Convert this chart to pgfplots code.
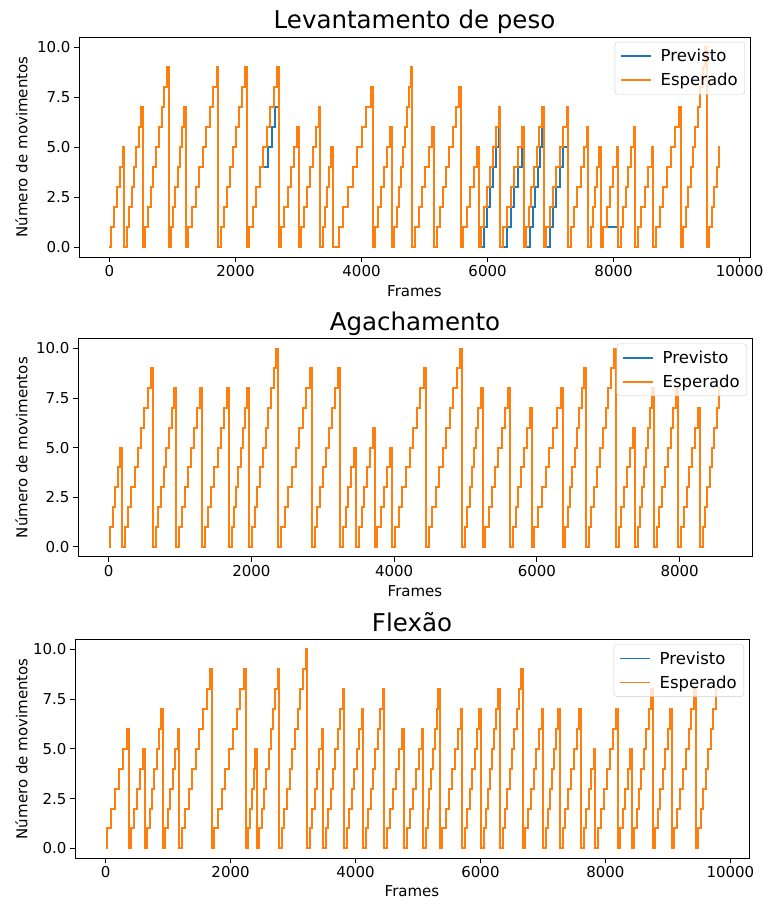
\documentclass[border=0pt]{standalone}
\usepackage{fontspec}
\setmainfont{DejaVu Sans}
\usepackage{pgfplots}
\usepackage{pgfplotstable}
\pgfplotsset{compat=1.18}

\definecolor{mplblue}{HTML}{1F77B4}
\definecolor{mplorange}{HTML}{FF7F0E}

% x = frame, p = previsto, e = esperado
\pgfplotstableread[row sep=\\]{
x p e\\
0 0 0\\ 30 1 1\\ 76 2 2\\ 121 3 3\\ 167 4 4\\ 212 5 5\\ 237 0 0\\
277 1 1\\ 314 2 2\\ 352 3 3\\ 389 4 4\\ 426 5 5\\ 464 6 6\\ 501 7 7\\ 526 0 0\\
566 1 1\\ 609 2 2\\ 653 3 3\\ 696 4 4\\ 739 5 5\\ 782 6 6\\ 826 7 7\\ 869 8 8\\ 912 9 9\\ 937 0 0\\
977 1 1\\ 1012 2 2\\ 1047 3 3\\ 1082 4 4\\ 1117 5 5\\ 1152 6 6\\ 1187 7 7\\ 1212 0 0\\
1252 1 1\\ 1308 2 2\\ 1365 3 3\\ 1421 4 4\\ 1477 5 5\\ 1533 6 6\\ 1590 7 7\\ 1646 8 8\\ 1702 9 9\\ 1727 0 0\\
1767 1 1\\ 1815 2 2\\ 1863 3 3\\ 1911 4 4\\ 1959 5 5\\ 2007 6 6\\ 2055 7 7\\ 2103 8 8\\ 2151 9 9\\ 2176 0 0\\
2216 1 1\\ 2272 2 2\\ 2327 3 3\\ 2383 4 4\\ 2439 4 5\\ 2494 4 6\\ 2520 5 6\\ 2550 5 7\\ 2580 6 7\\ 2605 6 8\\ 2630 7 8\\ 2661 7 9\\ 2686 0 0\\
2726 1 1\\ 2776 2 2\\ 2826 3 3\\ 2877 4 4\\ 2927 5 5\\ 2977 6 6\\ 3002 0 0\\
3042 1 1\\ 3088 2 2\\ 3135 3 3\\ 3181 4 4\\ 3227 5 5\\ 3274 6 6\\ 3320 7 7\\ 3345 0 0\\
3385 1 1\\ 3419 2 2\\ 3452 3 3\\ 3486 4 4\\ 3519 5 5\\ 3544 0 0\\
3640 1 1\\ 3713 2 2\\ 3786 3 3\\ 3859 4 4\\ 3932 5 5\\ 4005 6 6\\ 4078 7 7\\ 4151 8 8\\ 4176 0 0\\
4216 1 1\\ 4264 2 2\\ 4312 3 3\\ 4361 4 4\\ 4409 5 5\\ 4457 6 6\\ 4482 0 0\\
4522 1 1\\ 4555 2 2\\ 4587 3 3\\ 4620 4 4\\ 4652 5 5\\ 4685 6 6\\ 4718 7 7\\ 4750 8 8\\ 4783 9 9\\ 4808 0 0\\
4848 1 1\\ 4904 2 2\\ 4959 3 3\\ 5015 4 4\\ 5070 5 5\\ 5126 6 6\\ 5151 0 0\\
5191 1 1\\ 5242 2 2\\ 5293 3 3\\ 5344 4 4\\ 5395 5 5\\ 5446 6 6\\ 5497 7 7\\ 5548 8 8\\ 5573 0 0\\
5613 1 1\\ 5669 2 2\\ 5725 3 3\\ 5781 4 4\\ 5837 5 5\\ 5862 0 0\\
5902 0 1\\ 5948 1 2\\ 5995 2 3\\ 6041 3 4\\ 6087 4 5\\ 6134 5 6\\ 6180 6 7\\ 6205 0 0\\
6245 0 1\\ 6306 1 2\\ 6366 2 3\\ 6427 3 4\\ 6487 4 5\\ 6548 5 6\\ 6573 0 0\\
6613 0 1\\ 6655 0 2\\ 6680 1 2\\ 6697 1 3\\ 6720 2 3\\ 6739 2 4\\ 6760 3 4\\ 6780 3 5\\ 6800 4 5\\ 6822 4 6\\ 6835 5 6\\ 6864 6 7\\ 6889 0 0\\
6929 0 1\\ 6984 1 2\\ 7039 2 3\\ 7094 3 4\\ 7149 4 5\\ 7190 5 5\\ 7204 5 6\\ 7259 5 7\\ 7284 0 0\\
7324 1 1\\ 7374 2 2\\ 7424 3 3\\ 7475 4 4\\ 7525 5 5\\ 7575 6 6\\ 7600 0 0\\
7640 1 1\\ 7672 2 2\\ 7705 3 3\\ 7737 4 4\\ 7769 5 5\\ 7794 0 0\\
7834 1 1\\ 7888 1 2\\ 7941 1 3\\ 7995 1 4\\ 8049 1 5\\ 8074 0 0\\
8114 1 1\\ 8155 2 2\\ 8195 3 3\\ 8236 4 4\\ 8276 5 5\\ 8317 6 6\\ 8342 0 0\\
8382 1 1\\ 8437 2 2\\ 8492 3 3\\ 8547 4 4\\ 8602 5 5\\ 8627 0 0\\
8667 1 1\\ 8729 2 2\\ 8791 3 3\\ 8853 4 4\\ 8915 5 5\\ 8977 6 6\\ 9039 7 7\\ 9064 0 0\\
9104 1 1\\ 9143 2 2\\ 9182 3 3\\ 9221 4 4\\ 9260 5 5\\ 9299 6 6\\ 9338 7 7\\ 9377 8 8\\ 9416 9 9\\ 9455 10 10\\ 9480 0 0\\
9522 1 1\\ 9560 2 2\\ 9600 3 3\\ 9635 4 4\\ 9665 5 5\\ 9681 5 5\\
}\levantamento

\pgfplotstableread[row sep=\\]{
x y\\
0 0\\ 25 1\\ 59 2\\ 93 3\\ 126 4\\ 160 5\\ 185 0\\
225 1\\ 271 2\\ 317 3\\ 363 4\\ 409 5\\ 456 6\\ 502 7\\ 548 8\\ 594 9\\ 619 0\\
659 1\\ 696 2\\ 734 3\\ 771 4\\ 808 5\\ 845 6\\ 883 7\\ 920 8\\ 945 0\\
985 1\\ 1027 2\\ 1069 3\\ 1111 4\\ 1154 5\\ 1196 6\\ 1238 7\\ 1280 8\\ 1305 0\\
1345 1\\ 1390 2\\ 1436 3\\ 1481 4\\ 1526 5\\ 1572 6\\ 1617 7\\ 1662 8\\ 1687 0\\
1727 1\\ 1758 2\\ 1788 3\\ 1819 4\\ 1850 5\\ 1881 6\\ 1911 7\\ 1942 8\\ 1967 0\\
2007 1\\ 2045 2\\ 2084 3\\ 2122 4\\ 2160 5\\ 2199 6\\ 2237 7\\ 2275 8\\ 2314 9\\ 2352 10\\ 2377 0\\
2417 1\\ 2467 2\\ 2518 3\\ 2568 4\\ 2619 5\\ 2669 6\\ 2719 7\\ 2770 8\\ 2820 9\\ 2845 0\\
2885 1\\ 2926 2\\ 2968 3\\ 3009 4\\ 3051 5\\ 3092 6\\ 3133 7\\ 3175 8\\ 3216 9\\ 3241 0\\
3281 1\\ 3321 2\\ 3360 3\\ 3400 4\\ 3440 5\\ 3465 0\\
3505 1\\ 3544 2\\ 3584 3\\ 3623 4\\ 3663 5\\ 3702 6\\ 3727 0\\
3767 1\\ 3812 2\\ 3858 3\\ 3903 4\\ 3948 5\\ 3973 0\\
4013 1\\ 4064 2\\ 4115 3\\ 4166 4\\ 4217 5\\ 4267 6\\ 4318 7\\ 4369 8\\ 4420 9\\ 4445 0\\
4485 1\\ 4534 2\\ 4583 3\\ 4633 4\\ 4682 5\\ 4731 6\\ 4780 7\\ 4829 8\\ 4879 9\\ 4928 10\\ 4953 0\\
4993 1\\ 5025 2\\ 5056 3\\ 5088 4\\ 5119 5\\ 5151 6\\ 5182 7\\ 5214 8\\ 5239 0\\
5279 1\\ 5324 2\\ 5370 3\\ 5415 4\\ 5460 5\\ 5505 6\\ 5551 7\\ 5596 8\\ 5621 0\\
5661 1\\ 5701 2\\ 5741 3\\ 5780 4\\ 5820 5\\ 5860 6\\ 5900 7\\ 5925 0\\
5965 1\\ 6018 2\\ 6070 3\\ 6123 4\\ 6176 5\\ 6229 6\\ 6281 7\\ 6334 8\\ 6359 0\\
6399 1\\ 6432 2\\ 6464 3\\ 6497 4\\ 6529 5\\ 6562 6\\ 6595 7\\ 6627 8\\ 6660 9\\ 6685 0\\
6725 1\\ 6764 2\\ 6804 3\\ 6843 4\\ 6883 5\\ 6922 6\\ 6962 7\\ 7001 8\\ 7041 9\\ 7080 10\\ 7105 0\\
7145 1\\ 7185 2\\ 7225 3\\ 7266 4\\ 7306 5\\ 7346 6\\ 7371 0\\
7411 1\\ 7440 2\\ 7468 3\\ 7497 4\\ 7526 5\\ 7555 6\\ 7583 7\\ 7612 8\\ 7637 0\\
7677 1\\ 7716 2\\ 7755 3\\ 7795 4\\ 7834 5\\ 7873 6\\ 7913 7\\ 7952 8\\ 7977 0\\
8017 1\\ 8057 2\\ 8097 3\\ 8136 4\\ 8176 5\\ 8216 6\\ 8256 7\\ 8281 0\\
8321 1\\ 8354 2\\ 8387 3\\ 8420 4\\ 8453 5\\ 8486 6\\ 8519 7\\ 8552 8\\ 8585 8\\
}\agachamento

\pgfplotstableread[row sep=\\]{
x y\\
0 0\\ 30 1\\ 94 2\\ 157 3\\ 221 4\\ 284 5\\ 348 6\\ 373 0\\
413 1\\ 461 2\\ 509 3\\ 556 4\\ 604 5\\ 629 0\\
669 1\\ 706 2\\ 742 3\\ 779 4\\ 815 5\\ 852 6\\ 888 7\\ 913 0\\
953 1\\ 993 2\\ 1033 3\\ 1073 4\\ 1113 5\\ 1153 6\\ 1178 0\\
1218 1\\ 1275 2\\ 1332 3\\ 1388 4\\ 1445 5\\ 1502 6\\ 1559 7\\ 1615 8\\ 1672 9\\ 1697 0\\
1737 1\\ 1797 2\\ 1857 3\\ 1917 4\\ 1977 5\\ 2036 6\\ 2096 7\\ 2156 8\\ 2216 9\\ 2241 0\\
2281 1\\ 2310 2\\ 2339 3\\ 2368 4\\ 2397 5\\ 2422 0\\
2462 1\\ 2499 2\\ 2535 3\\ 2572 4\\ 2608 5\\ 2645 6\\ 2681 7\\ 2718 8\\ 2754 9\\ 2779 0\\
2819 1\\ 2862 2\\ 2904 3\\ 2947 4\\ 2990 5\\ 3032 6\\ 3075 7\\ 3118 8\\ 3160 9\\ 3203 10\\ 3228 0\\
3268 1\\ 3306 2\\ 3344 3\\ 3383 4\\ 3421 5\\ 3459 6\\ 3484 0\\
3524 1\\ 3563 2\\ 3601 3\\ 3640 4\\ 3679 5\\ 3718 6\\ 3756 7\\ 3795 8\\ 3820 0\\
3860 1\\ 3900 2\\ 3940 3\\ 3980 4\\ 4019 5\\ 4059 6\\ 4099 7\\ 4124 0\\
4164 1\\ 4203 2\\ 4241 3\\ 4280 4\\ 4319 5\\ 4358 6\\ 4396 7\\ 4435 8\\ 4460 0\\
4500 1\\ 4550 2\\ 4600 3\\ 4651 4\\ 4701 5\\ 4751 6\\ 4776 0\\
4816 1\\ 4865 2\\ 4914 3\\ 4962 4\\ 5011 5\\ 5060 6\\ 5085 0\\
5125 1\\ 5154 2\\ 5183 3\\ 5212 4\\ 5240 5\\ 5269 6\\ 5298 7\\ 5327 8\\ 5352 0\\
5392 1\\ 5441 2\\ 5489 3\\ 5538 4\\ 5587 5\\ 5635 6\\ 5684 7\\ 5709 0\\
5749 1\\ 5788 2\\ 5827 3\\ 5867 4\\ 5906 5\\ 5945 6\\ 5984 7\\ 6009 0\\
6049 1\\ 6083 2\\ 6117 3\\ 6151 4\\ 6186 5\\ 6220 6\\ 6254 7\\ 6288 8\\ 6313 0\\
6353 1\\ 6390 2\\ 6428 3\\ 6465 4\\ 6502 5\\ 6539 6\\ 6577 7\\ 6614 8\\ 6651 9\\ 6676 0\\
6716 1\\ 6760 2\\ 6804 3\\ 6849 4\\ 6893 5\\ 6937 6\\ 6981 7\\ 7006 0\\
7046 1\\ 7080 2\\ 7113 3\\ 7147 4\\ 7181 5\\ 7214 6\\ 7248 7\\ 7273 0\\
7313 1\\ 7358 2\\ 7403 3\\ 7449 4\\ 7494 5\\ 7539 6\\ 7584 7\\ 7609 0\\
7649 1\\ 7690 2\\ 7732 3\\ 7773 4\\ 7814 5\\ 7839 0\\
7879 1\\ 7928 2\\ 7977 3\\ 8026 4\\ 8074 5\\ 8123 6\\ 8172 7\\ 8197 0\\
8237 1\\ 8277 2\\ 8317 3\\ 8356 4\\ 8396 5\\ 8421 0\\
8461 1\\ 8500 2\\ 8538 3\\ 8577 4\\ 8616 5\\ 8655 6\\ 8693 7\\ 8732 8\\ 8757 0\\
8797 1\\ 8837 2\\ 8877 3\\ 8917 4\\ 8957 5\\ 8997 6\\ 9037 7\\ 9062 0\\
9102 1\\ 9148 2\\ 9193 3\\ 9239 4\\ 9284 5\\ 9330 6\\ 9376 7\\ 9421 8\\ 9446 0\\
9486 1\\ 9526 2\\ 9567 3\\ 9607 4\\ 9647 5\\ 9687 6\\ 9728 7\\ 9768 8\\ 9808 8\\
}\flexao

\pgfplotsset{
  panel/.style={
    scale only axis, anchor=south west,
    ymin=-0.5, ymax=10.5, ytick={0,2.5,5,7.5,10},
    yticklabel style={/pgf/number format/fixed, /pgf/number format/fixed zerofill, /pgf/number format/precision=1},
    /pgf/number format/1000 sep={},
    /pgf/number format/assume math mode=true,
    scaled x ticks=false,
    tick align=outside, tick pos=left, major tick length=5pt,
    tick style={black, line width=0.8pt},
    axis line style={line width=0.8pt},
    tick label style={font=\fontsize{15}{17}\selectfont},
    label style={font=\fontsize{15}{17}\selectfont},
    title style={font=\fontsize{24.5}{28}\selectfont, at={(0.5,1)}, anchor=base, yshift=2pt},
    xlabel={Frames}, ylabel={Número de movimentos},
    xlabel style={at={(axis description cs:0.5,0)}, anchor=base, yshift=-40pt},
    ylabel style={anchor=south},
    legend cell align=left,
    legend style={at={(1,1)}, xshift=-5pt, yshift=-5pt, anchor=north east,
      draw=black!20, rounded corners=3pt, fill=white, fill opacity=0.8, text opacity=1,
      font=\fontsize{16.5}{19}\selectfont, row sep=6pt, column sep=7pt,
      inner xsep=5pt, inner ysep=5pt},
    legend image code/.code={\draw[##1, line width=1.8pt] (0pt,0pt) -- (30pt,0pt);},
  },
  prev/.style={const plot, mplblue, line width=2pt},
  esp/.style={const plot, mplorange, line width=2pt},
}

\begin{document}
\begin{tikzpicture}
\path[use as bounding box] (0,0) rectangle (767pt,900pt);

\begin{axis}[panel, at={(79pt,643pt)}, width=671pt, height=220pt,
  xmin=-484, xmax=10165, xtick={0,2000,...,10000},
  title={Levantamento de peso},
  ylabel style={at={(axis description cs:-0.0712,0.5)}}]
\addplot[prev] table[x=x, y=p] {\levantamento};
\addlegendentry{Previsto}
\addplot[esp] table[x=x, y=e] {\levantamento};
\addlegendentry{Esperado}
\end{axis}

\begin{axis}[panel, at={(78pt,343.4pt)}, width=674pt, height=218pt,
  xmin=-429, xmax=9014, xtick={0,2000,...,8000},
  title={Agachamento},
  ylabel style={at={(axis description cs:-0.0694,0.5)}}]
\addplot[prev] table[x=x, y=y] {\agachamento};
\addlegendentry{Previsto}
\addplot[esp] table[x=x, y=y] {\agachamento};
\addlegendentry{Esperado}
\end{axis}

\begin{axis}[panel, at={(75pt,41.7pt)}, width=674pt, height=219pt,
  xmin=-490, xmax=10298, xtick={0,2000,...,10000},
  title={Flexão},
  xlabel style={yshift=2pt},
  ylabel style={at={(axis description cs:-0.065,0.5)}}]
\addplot[prev] table[x=x, y=y] {\flexao};
\addlegendentry{Previsto}
\addplot[esp] table[x=x, y=y] {\flexao};
\addlegendentry{Esperado}
\end{axis}
\end{tikzpicture}
\end{document}
